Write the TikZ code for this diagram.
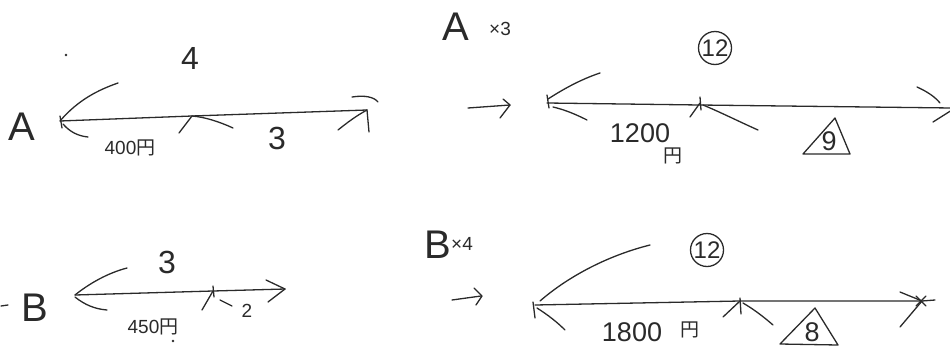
\documentclass[tikz,border=0pt]{standalone}
\usepackage{fontspec}
\setmainfont{Liberation Sans}
\newfontfamily\cjk{Noto Sans CJK JP}
\definecolor{inkc}{HTML}{2A2A2A}
\tikzset{
  ink/.style={line width=1.3pt, draw=inkc, line cap=round, line join=round},
  lbl/.style={text=inkc, inner sep=0pt},
  big/.style={lbl, font=\fontsize{40}{40}\selectfont},
  mid/.style={lbl, font=\fontsize{27}{27}\selectfont},
  dig/.style={lbl, font=\fontsize{32}{32}\selectfont},
  sml/.style={lbl, font=\fontsize{19}{19}\selectfont},
  circ/.style={lbl, draw=inkc, line width=1.3pt, circle, minimum size=33pt, font=\fontsize{24}{24}\selectfont}
}
\begin{document}
\begin{tikzpicture}[x=1pt,y=-1pt]
\useasboundingbox (0,0) rectangle (950,351);
\clip (0,0) rectangle (950,351);
% ---------- Row A left ----------
\node[big] (lA) at (22,127) {A};
\node[dig] (n4) at (190,58) {4};
\node[dig] (n3a) at (277,138) {3};
\node[sml] (p400) at (130,148) {400{\cjk 円}};
\fill[inkc] (66,55) circle (1.3pt);
\coordinate (a0) at (60,121);
\coordinate (a1) at (192,116);
\coordinate (a2) at (367,110);
\draw[ink] (a0) -- (a1) -- (a2);
\draw[ink] (60,116) -- (62,128);
\draw[ink] (a0) .. controls (78,100) and (98,90) .. (118,83);
\draw[ink] (63,124) .. controls (70,132) and (78,136) .. (88,137);
\draw[ink] (179,133) -- (a1);
\draw[ink] (a1) .. controls (205,117) and (220,122) .. (233,128);
\draw[ink] (a2) -- (369,132);
\draw[ink] (352,97) .. controls (365,95) and (374,97) .. (378,102);
\draw[ink] (338,130) .. controls (348,122) and (356,116) .. (a2);
% ---------- Row A right ----------
\node[big] (lA3) at (456,27) {A};
\node[sml] (x3) at (500,29) {×3};
\node[circ] (c12a) at (715,48) {12};
\draw[ink] (468,108) -- (510,105);
\draw[ink] (503,99) -- (510,105) -- (500,118);
\coordinate (b0) at (547,103);
\coordinate (b1) at (700,105);
\coordinate (b2) at (952,108);
\draw[ink] (b0) -- (b1) -- (b2);
\draw[ink] (547,95) -- (549,108);
\draw[ink] (548,99) .. controls (565,88) and (582,79) .. (600,73);
\draw[ink] (553,107) .. controls (566,110) and (577,115) .. (587,120);
\draw[ink] (700,97) -- (701,110);
\draw[ink] (690,117) -- (700,103);
\draw[ink] (703,105) .. controls (720,112) and (740,122) .. (758,130);
\node[mid] (p1200) at (640,133) {1200};
\node[sml] (yen1) at (673,156) {\cjk 円};
\draw[ink] (803,154) -- (835,118) -- (850,154) -- cycle;
\node[mid] (n9) at (829,141) {9};
\draw[ink] (917,87) .. controls (928,92) and (935,97) .. (940,103);
\draw[ink] (933,122) -- (952,110);
% ---------- Row B left ----------
\draw[ink] (1,306) -- (8,305);
\node[big] (lB) at (35,308) {B};
\node[dig] (n3b) at (167,262) {3};
\node[sml] (n2) at (247,311) {2};
\node[sml] (p450) at (153,327) {450{\cjk 円}};
\fill[inkc] (173,341) circle (1.3pt);
\coordinate (c0) at (75,295);
\coordinate (c1) at (213,291);
\coordinate (c2) at (285,289);
\draw[ink] (c0) -- (c1) -- (c2);
\draw[ink] (c0) .. controls (90,283) and (108,273) .. (127,268);
\draw[ink] (75,297) .. controls (85,305) and (95,309) .. (107,310);
\draw[ink] (213,286) -- (214,297);
\draw[ink] (202,310) -- (c1);
\draw[ink] (220,300) -- (232,306);
\draw[ink] (266,280) -- (c2) -- (268,302);
% ---------- Row B right ----------
\node[big] (lB4) at (438,245) {B};
\node[sml] (x4) at (462,244) {×4};
\node[circ] (c12b) at (707,250) {12};
\draw[ink] (452,300) -- (481,296);
\draw[ink] (474,288) -- (482,296) -- (476,305);
\coordinate (d0) at (535,305);
\coordinate (d1) at (740,301);
\coordinate (d2) at (922,301);
\draw[ink] (d0) -- (d1) -- (d2) -- (935,300);
\draw[ink] (533,302) -- (535,318);
\draw[ink] (540,301) .. controls (570,275) and (610,255) .. (650,245);
\draw[ink] (537,308) .. controls (548,315) and (557,322) .. (565,330);
\draw[ink] (740,298) -- (741,314);
\draw[ink] (723,317) -- (d1);
\draw[ink] (743,303) .. controls (755,310) and (765,318) .. (773,325);
\node[mid] (p1800) at (632,332) {1800};
\node[sml] (yen2) at (690,330) {\cjk 円};
\draw[ink] (780,344) -- (815,308) -- (838,345) -- cycle;
\node[mid] (n8) at (812,332) {8};
\draw[ink] (900,292) -- (d2);
\draw[ink] (900,327) -- (d2);
\draw[ink] (916,296) -- (926,306) (916,306) -- (926,296);
\end{tikzpicture}
\end{document}
